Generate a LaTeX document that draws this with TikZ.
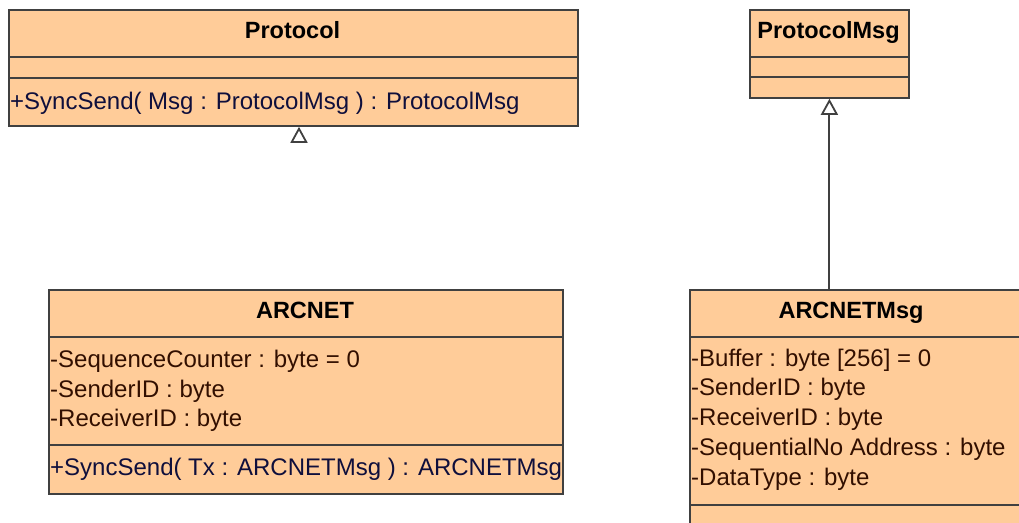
\documentclass[tikz,border=0pt]{standalone}
\usepackage{fontspec}
\setmainfont{Liberation Sans}
\usetikzlibrary{arrows.meta}
\definecolor{peach}{RGB}{255,204,153}
\definecolor{bord}{RGB}{64,64,64}
\definecolor{attrc}{RGB}{50,15,0}
\definecolor{opc}{RGB}{15,15,60}
\tikzset{
  x=1pt, y=-1pt,
  classbox/.style={draw=bord, fill=peach, line width=1.8pt, rectangle, anchor=north west, inner sep=0pt},
  sep/.style={draw=bord, line width=1.6pt},
  title/.style={font=\fontsize{23.5}{26}\selectfont\bfseries, text=black, anchor=base, inner sep=0pt},
  attr/.style={font=\fontsize{24}{26}\selectfont, text=attrc, anchor=base west, inner sep=0pt},
  oper/.style={font=\fontsize{24}{26}\selectfont, text=opc, anchor=base west, inner sep=0pt},
  gen/.style={draw=bord, line width=2pt, -{Triangle[open, length=16pt, width=17pt, fill=white, line width=1.8pt]}}
}
\begin{document}
\begin{tikzpicture}
\useasboundingbox (0,0) rectangle (1019,522);
\clip (0,0) rectangle (1019,522);
% Protocol
\node[classbox, minimum width=569pt, minimum height=116pt] (protocol) at (8,9) {};
\draw[sep] (8,57) -- (577,57);
\draw[sep] (8,78) -- (577,78);
\node[title] (protocolT) at (292.5,38) {Protocol};
\node[oper] (protocolO) at (10,109) {+SyncSend( Msg : ProtocolMsg ) : ProtocolMsg};
% ProtocolMsg
\node[classbox, minimum width=159pt, minimum height=88pt] (protocolmsg) at (749,9) {};
\draw[sep] (749,57) -- (908,57);
\draw[sep] (749,77) -- (908,77);
\node[title] (protocolmsgT) at (828.5,38) {ProtocolMsg};
% ARCNET
\node[classbox, minimum width=514pt, minimum height=204pt] (arcnet) at (48,289) {};
\draw[sep] (48,337) -- (562,337);
\draw[sep] (48,445) -- (562,445);
\node[title] (arcnetT) at (305,318) {ARCNET};
\node[attr] (a1) at (50,367) {-SequenceCounter : byte = 0};
\node[attr] (a2) at (50,397) {-SenderID : byte};
\node[attr] (a3) at (50,426) {-ReceiverID : byte};
\node[oper] (a4) at (50,475) {+SyncSend( Tx : ARCNETMsg ) : ARCNETMsg};
% ARCNETMsg
\node[classbox, minimum width=400pt, minimum height=260pt] (arcnetmsg) at (689,289) {};
\draw[sep] (689,337) -- (1030,337);
\draw[sep] (689,505) -- (1030,505);
\node[title] (arcnetmsgT) at (851,318) {ARCNETMsg};
\node[attr] (m1) at (691,366) {-Buffer : byte [256] = 0};
\node[attr] (m2) at (691,395) {-SenderID : byte};
\node[attr] (m3) at (691,425) {-ReceiverID : byte};
\node[attr] (m4) at (691,455) {-SequentialNo Address : byte};
\node[attr] (m5) at (691,485) {-DataType : byte};
% generalizations
\draw[gen] (protocolmsg.south |- arcnetmsg.north) -- (protocolmsg.south);
\coordinate (orph) at (299,142);
\draw[gen] (orph) -- (orph |- protocol.south);
\end{tikzpicture}
\end{document}
